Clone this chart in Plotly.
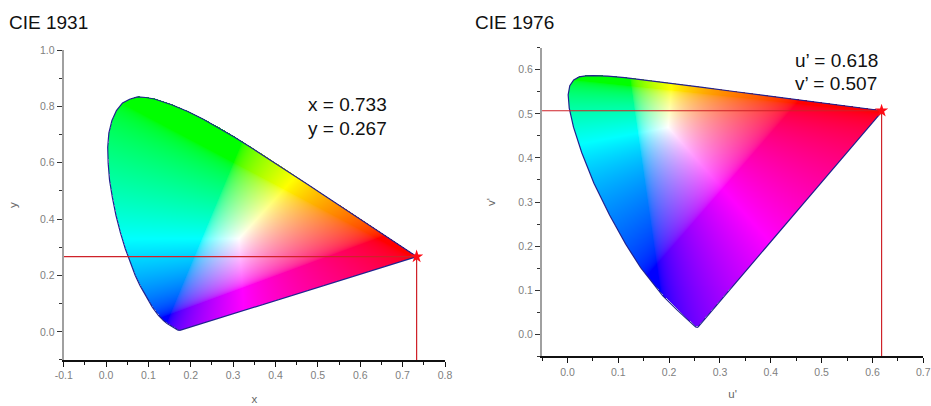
import numpy as np
import plotly.graph_objects as go
from plotly.subplots import make_subplots

# spectral locus, CIE 1931 (x, y)
locus_x = [.1741,.1733,.1714,.1703,.1689,.1669,.1644,.1611,.1566,.1510,.1440,.1355,.1241,.1096,.0913,.0803,.0687,.0565,.0454,.0337,.0235,.0150,.0082,.0050,.0039,.0066,.0139,.0245,.0389,.0555,.0743,.0940,.1142,.1547,.1929,.2296,.2658,.3016,.3373,.3731,.4087,.4441,.4788,.5125,.5448,.5752,.6029,.6270,.6482,.6658,.6801,.6915,.7006,.7079,.7140,.7190,.7230,.7260,.7283,.7300,.7320,.7334]
locus_y = [.0050,.0048,.0051,.0058,.0069,.0086,.0109,.0138,.0177,.0227,.0297,.0399,.0578,.0868,.1327,.1640,.2007,.2470,.2950,.3530,.4127,.4760,.5384,.5985,.6548,.7050,.7502,.7850,.8120,.8255,.8338,.8315,.8262,.8059,.7816,.7543,.7243,.6923,.6589,.6245,.5896,.5547,.5202,.4866,.4544,.4242,.3965,.3725,.3514,.3340,.3197,.3083,.2993,.2920,.2859,.2809,.2770,.2740,.2717,.2700,.2680,.2666]
# spectral locus, CIE 1976 (u', v')
locus_u = [.2568,.2557,.2522,.2461,.2347,.2161,.1877,.1441,.1147,.0828,.0521,.0282,.0119,.0035,.0014,.0046,.0123,.0231,.0360,.0501,.0792,.1127,.1531,.2026,.2623,.3315,.4035,.4692,.5203,.5565,.5830,.6005,.6109,.6199]
locus_v = [.0166,.0159,.0169,.0226,.0350,.0549,.0871,.1510,.2044,.2708,.3427,.4117,.4698,.5131,.5432,.5638,.5770,.5837,.5861,.5868,.5856,.5821,.5766,.5694,.5604,.5501,.5393,.5296,.5219,.5165,.5125,.5099,.5084,.5070]

point_xy = [0.733, 0.267]
point_uv = [0.618, 0.507]

x_ticks_l = [-0.1, 0, .1, .2, .3, .4, .5, .6, .7, .8]
x_text_l = ["-0.1", "0.0", "0.1", "0.2", "0.3", "0.4", "0.5", "0.6", "0.7", "0.8"]
y_ticks_l = [0, .2, .4, .6, .8, 1.0]
y_text_l = ["0.0", "0.2", "0.4", "0.6", "0.8", "1.0"]
x_ticks_r = [0, .1, .2, .3, .4, .5, .6, .7]
x_text_r = ["0.0", "0.1", "0.2", "0.3", "0.4", "0.5", "0.6", "0.7"]
y_ticks_r = [0, .1, .2, .3, .4, .5, .6]
y_text_r = ["0.0", "0.1", "0.2", "0.3", "0.4", "0.5", "0.6"]

XYZ_TO_RGB = np.array([[3.2406, -1.5372, -0.4986],
                       [-0.9689, 1.8758, 0.0415],
                       [0.0557, -0.2040, 1.0570]])


def inside(px, py, poly_x, poly_y):
    poly_x, poly_y = np.asarray(poly_x), np.asarray(poly_y)
    result = np.zeros(px.shape, bool)
    for i in range(len(poly_x)):
        x1, y1, x2, y2 = poly_x[i], poly_y[i], poly_x[i - 1], poly_y[i - 1]
        cond = (y1 > py) != (y2 > py)
        with np.errstate(divide="ignore", invalid="ignore"):
            xc = (x2 - x1) * (py - y1) / (y2 - y1) + x1
        result ^= cond & (px < xc)
    return result


def colours(x, y, mask):
    y_safe = np.where(y <= 1e-4, 1e-4, y)
    xyz = np.stack([x / y_safe, np.ones_like(x), (1 - x - y) / y_safe], axis=-1)
    rgb = np.clip(xyz @ XYZ_TO_RGB.T, 0, None)
    rgb /= np.maximum(rgb.max(axis=-1, keepdims=True), 1e-6)
    rgb = np.where(rgb <= .0031308, 12.92 * rgb, 1.055 * rgb ** (1 / 2.4) - .055)
    out = np.zeros(x.shape + (4,), np.uint8)
    out[..., :3] = np.round(np.clip(rgb, 0, 1) * 255)
    out[..., 3] = mask * 255
    return out


def gamut_image(x0, x1, dx, y0, y1, dy, poly_x, poly_y, uv=False):
    gx = np.arange(x0, x1, dx)
    gy = np.arange(y0, y1, dy)
    px, py = np.meshgrid(gx, gy)
    mask = inside(px, py, poly_x, poly_y)
    if uv:
        d = 6 * px - 16 * py + 12
        cx, cy = 9 * px / d, 4 * py / d
    else:
        cx, cy = px, py
    return colours(cx, cy, mask)


fig = make_subplots(rows=1, cols=2)

# CIE 1931
dx_l, dy_l = 1 / 423.6, 1 / 282.0
fig.add_trace(go.Image(z=gamut_image(0, .74, dx_l, 0, .84, dy_l, locus_x, locus_y),
                       x0=0, y0=0, dx=dx_l, dy=dy_l, hoverinfo="skip", colormodel="rgba"), 1, 1)
# CIE 1976
dx_r, dy_r = 1 / 508.6, 1 / 442.0
fig.add_trace(go.Image(z=gamut_image(0, .63, dx_r, 0, .6, dy_r, locus_u, locus_v, uv=True),
                       x0=0, y0=0, dx=dx_r, dy=dy_r, hoverinfo="skip", colormodel="rgba"), 1, 2)

LINE = "#22228f"
RED = "#cf2229"
for col, lx, ly, pt, xmin, ymin in (
    (1, locus_x, locus_y, point_xy, -0.1, -0.1),
    (2, locus_u, locus_v, point_uv, -0.05, -0.05),
):
    fig.add_trace(go.Scatter(x=lx + lx[:1], y=ly + ly[:1], mode="lines",
                             line=dict(color=LINE, width=1.2), hoverinfo="skip"), 1, col)
    fig.add_trace(go.Scatter(x=[xmin, pt[0], pt[0]], y=[pt[1], pt[1], ymin], mode="lines",
                             line=dict(color=RED, width=1.2), hoverinfo="skip"), 1, col)
    fig.add_trace(go.Scatter(x=[pt[0]], y=[pt[1]], mode="markers",
                             marker=dict(symbol="star", size=10, color="#ff0a14", line=dict(width=0)),
                             hoverinfo="skip"), 1, col)

FONT = "Liberation Sans, Arial, sans-serif"
tickfont = dict(family=FONT, size=10.5, color="#808080")
titlefont = dict(family=FONT, size=11.5, color="#666666")


def xaxis(domain, rng, vals, text, minor, title, standoff):
    return dict(domain=domain, range=rng, tickvals=vals, ticktext=text, tickangle=0,
                showgrid=False, zeroline=False, showline=True, linecolor="#111111", linewidth=1.5,
                ticks="outside", ticklen=5, tickcolor="#111111", tickwidth=1, tickfont=tickfont,
                minor=dict(dtick=minor, tick0=0, ticks="outside", ticklen=3, tickcolor="#111111", tickwidth=1, showgrid=False),
                title=dict(text=title, font=titlefont, standoff=standoff), automargin=False, fixedrange=True,
                scaleanchor=False, constrain="range")


def yaxis(domain, rng, vals, text, minor, title, standoff):
    return dict(domain=domain, range=rng, tickvals=vals, ticktext=text,
                showgrid=False, zeroline=False, showline=True, linecolor="#a0a0a0", linewidth=2,
                ticks="outside", ticklen=5, tickcolor="#333333", tickwidth=1, tickfont=tickfont,
                minor=dict(dtick=minor, tick0=0, ticks="outside", ticklen=3, tickcolor="#333333", tickwidth=1, showgrid=False),
                title=dict(text=title, font=titlefont, standoff=standoff), automargin=False, fixedrange=True,
                scaleanchor=False, constrain="range")


fig.update_layout(
    width=931, height=406, margin=dict(l=0, r=0, t=0, b=0),
    paper_bgcolor="white", plot_bgcolor="white", showlegend=False,
    xaxis=xaxis([.0684, .4780], [-0.1, 0.8], x_ticks_l, x_text_l, .05, "x", 15),
    yaxis=yaxis([.1133, .8768], [-0.1, 1.0], y_ticks_l, y_text_l, .1, "y", 20),
    xaxis2=xaxis([.5822, .9917], [-0.05, 0.7], x_ticks_r, x_text_r, .05, "u'", 13),
    yaxis2=yaxis([.1222, .8825], [-0.05, 0.65], y_ticks_r, y_text_r, .05, "v'", 20),
)

big = dict(family=FONT, size=19, color="#111111")
labels = [
    ("CIE 1931", 9, 22), ("CIE 1976", 475, 22),
    ("x = 0.733", 308, 105), ("y = 0.267", 308, 128),
    ("u’ = 0.618", 795, 61), ("v’ = 0.507", 795, 83),
]
for text, px_, py_ in labels:
    fig.add_annotation(text=text, xref="paper", yref="paper", x=px_ / 931, y=1 - py_ / 406,
                       xanchor="left", yanchor="middle", showarrow=False, font=big,
                       xshift=0, yshift=0, borderpad=0, borderwidth=0)

fig.write_html("out.html", config=dict(displayModeBar=False),
               post_script="document.body.style.margin='0';")
